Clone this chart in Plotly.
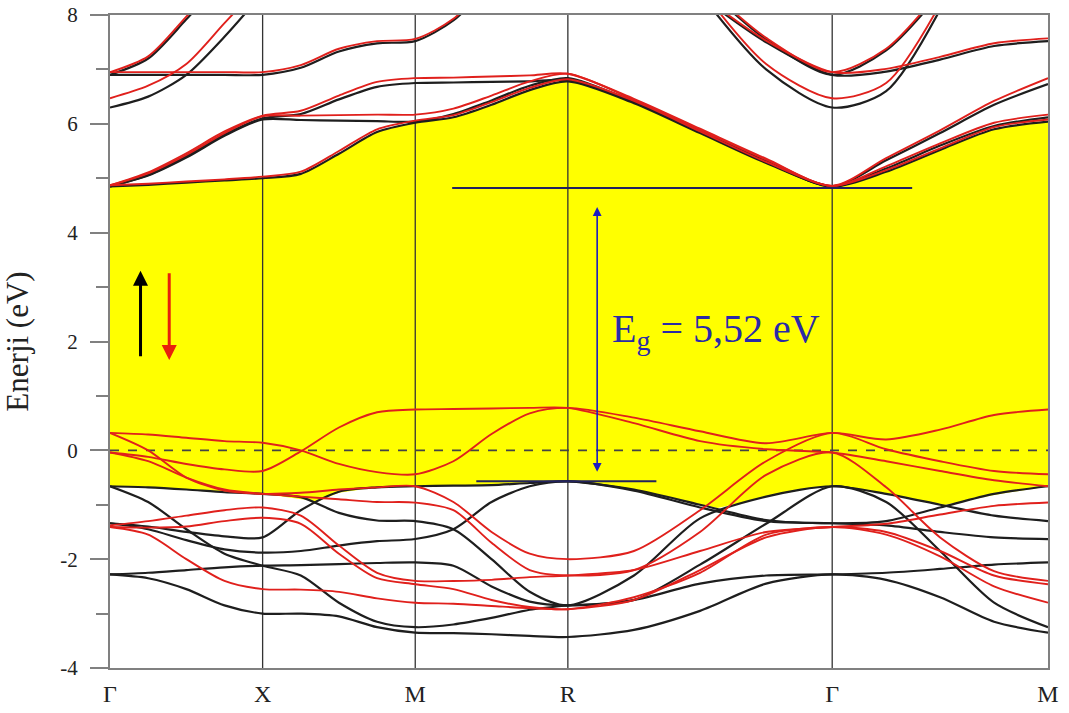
import plotly.graph_objects as go

N = None
# high-symmetry path (simple cubic): Γ-X-M-R-Γ-M
K_HS = [0.0, 0.5, 1.0, 1.5, 2.366, 3.073]
K_LABELS = ["Γ", "X", "M", "R", "Γ", "M"]
K = [0.0, 0.125, 0.25, 0.375, 0.5, 0.625, 0.75, 0.875, 1.0, 1.125, 1.25, 1.375, 1.5,
     1.7165, 1.933, 2.1495, 2.366, 2.5428, 2.7195, 2.8963, 3.073]

# spin-up (black) valence bands
up_v1 = [-0.66, -0.68, -0.72, -0.77, -0.80, -0.86, -1.15, -1.29, -1.30, -1.45, -2.00, -2.60, -2.85, -2.30, -1.25, -0.85, -0.66, -0.80, -1.00, -1.20, -1.30]
up_v2 = [-0.66, -0.95, -1.45, -1.90, -2.12, -2.30, -2.80, -3.15, -3.25, -3.20, -3.08, -2.93, -2.85, -2.75, -2.10, -1.35, -0.66, -0.95, -1.85, -2.80, -3.25]
up_v3 = [-1.34, -1.40, -1.50, -1.58, -1.60, -1.10, -0.76, -0.68, -0.66, -0.65, -0.64, -0.60, -0.57, -0.72, -1.00, -1.28, -1.34, -1.30, -1.05, -0.80, -0.66]
up_v4 = [-1.34, -1.45, -1.65, -1.82, -1.88, -1.85, -1.75, -1.67, -1.63, -1.45, -0.95, -0.66, -0.57, -0.74, -1.05, -1.30, -1.34, -1.38, -1.50, -1.60, -1.63]
up_v5 = [-2.28, -2.25, -2.20, -2.15, -2.12, -2.11, -2.09, -2.07, -2.06, -2.12, -2.50, -2.78, -2.85, -2.75, -2.45, -2.30, -2.28, -2.25, -2.18, -2.10, -2.06]
up_v6 = [-2.28, -2.35, -2.55, -2.85, -3.00, -3.00, -3.05, -3.25, -3.35, -3.36, -3.38, -3.41, -3.43, -3.30, -2.95, -2.45, -2.28, -2.38, -2.70, -3.15, -3.35]

# spin-up (black) conduction bands
up_c1 = [4.85, 4.88, 4.92, 4.96, 5.00, 5.08, 5.45, 5.85, 6.02, 6.12, 6.35, 6.62, 6.78, 6.38, 5.83, 5.28, 4.85, 5.12, 5.52, 5.90, 6.04]
up_c2 = [4.85, 5.05, 5.38, 5.78, 6.08, 6.07, 6.06, 6.05, 6.04, 6.18, 6.43, 6.70, 6.84, 6.40, 5.85, 5.30, 4.85, 5.18, 5.60, 5.96, 6.12]
up_c3 = [4.85, 5.06, 5.40, 5.80, 6.10, 6.18, 6.45, 6.68, 6.75, 6.76, 6.77, 6.78, 6.80, 6.42, 5.87, 5.32, 4.85, 5.33, 5.83, 6.35, 6.73]
up_c4 = [6.90, 6.90, 6.90, 6.90, 6.90, 7.03, 7.33, 7.48, 7.52, 7.90, 8.60, N, N, N, 8.35, 7.50, 6.90, 6.96, 7.18, 7.43, 7.52]
up_c5 = [6.90, 7.20, 7.92, 8.70, N, N, N, N, N, N, N, N, N, N, 8.60, 7.55, 6.90, 7.35, 8.40, N, N]
up_c6 = [6.30, 6.50, 6.90, 7.60, 8.40, N, N, N, N, N, N, N, N, N, 8.40, 7.00, 6.30, 6.60, 8.10, N, N]

# spin-down (red) valence bands
dn_v1 = [0.32, 0.29, 0.23, 0.17, 0.14, 0.00, -0.25, -0.40, -0.44, -0.20, 0.30, 0.68, 0.78, 0.60, 0.35, 0.13, 0.32, 0.20, 0.38, 0.65, 0.75]
dn_v2 = [-0.04, -0.12, -0.25, -0.35, -0.38, -0.02, 0.42, 0.70, 0.75, 0.76, 0.77, 0.78, 0.78, 0.50, 0.17, 0.02, -0.04, -0.20, -0.38, -0.55, -0.66]
dn_v3 = [0.32, 0.00, -0.50, -0.74, -0.80, -0.78, -0.72, -0.68, -0.66, -0.95, -1.50, -1.90, -2.00, -1.85, -1.10, -0.20, 0.32, 0.02, -0.20, -0.38, -0.44]
dn_v4 = [-0.04, -0.20, -0.50, -0.72, -0.80, -0.85, -0.90, -0.95, -0.96, -1.10, -1.70, -2.20, -2.30, -2.20, -1.50, -0.45, -0.04, -0.68, -1.60, -2.22, -2.40]
dn_v5 = [-1.38, -1.30, -1.20, -1.10, -1.05, -1.20, -1.75, -2.25, -2.40, -2.40, -2.38, -2.33, -2.30, -2.20, -1.85, -1.50, -1.41, -1.35, -1.18, -1.02, -0.96]
dn_v6 = [-1.41, -1.42, -1.40, -1.30, -1.24, -1.35, -1.90, -2.35, -2.46, -2.55, -2.75, -2.88, -2.92, -2.70, -2.25, -1.55, -1.41, -1.50, -1.85, -2.30, -2.46]
dn_v7 = [-1.41, -1.55, -2.00, -2.40, -2.55, -2.56, -2.60, -2.72, -2.80, -2.82, -2.86, -2.90, -2.92, -2.75, -2.20, -1.60, -1.41, -1.55, -1.95, -2.50, -2.80]

# spin-down (red) conduction bands
dn_c1 = [4.87, 4.90, 4.94, 4.98, 5.03, 5.12, 5.50, 5.90, 6.06, 6.16, 6.40, 6.66, 6.82, 6.42, 5.86, 5.30, 4.86, 5.15, 5.55, 5.94, 6.08]
dn_c2 = [4.87, 5.09, 5.43, 5.83, 6.14, 6.15, 6.16, 6.17, 6.17, 6.28, 6.52, 6.78, 6.92, 6.44, 5.89, 5.34, 4.86, 5.22, 5.64, 6.02, 6.17]
dn_c3 = [4.87, 5.11, 5.46, 5.86, 6.15, 6.24, 6.52, 6.77, 6.84, 6.85, 6.87, 6.89, 6.92, 6.46, 5.91, 5.36, 4.86, 5.37, 5.88, 6.42, 6.84]
dn_c4 = [6.95, 6.95, 6.95, 6.95, 6.95, 7.08, 7.38, 7.52, 7.56, 7.93, 8.65, N, N, N, 8.38, 7.53, 6.95, 7.01, 7.23, 7.48, 7.57]
dn_c5 = [6.95, 7.24, 7.97, 8.75, N, N, N, N, N, N, N, N, N, N, 8.62, 7.58, 6.95, 7.38, 8.45, N, N]
dn_c6 = [6.47, 6.70, 7.10, 7.85, 8.60, N, N, N, N, N, N, N, N, N, 8.50, 7.10, 6.47, 6.75, 8.20, N, N]

# lower edge of the yellow gap region (spin-up valence top)
GAP_FLOOR_K = [0.0, 0.25, 0.5, 0.60, 0.68, 0.75, 0.875, 1.0, 1.25, 1.375, 1.5, 1.7165, 1.85, 1.99, 2.08, 2.149, 2.26, 2.366, 2.5428, 2.73, 2.8963, 3.073]
GAP_FLOOR_E = [-0.66, -0.72, -0.80, -0.88, -0.94, -0.78, -0.68, -0.66, -0.64, -0.60, -0.57, -0.72, -0.90, -1.06, -0.95, -0.85, -0.72, -0.66, -0.80, -1.01, -0.82, -0.66]

CBM = 4.82
VBM = -0.57
EG_TEXT = "E<sub>g</sub> = 5,52 eV"

Y_TICKS = [-4, -2, 0, 2, 4, 6, 8]
Y_MINOR = [-3, -1, 1, 3, 5, 7]

SERIF = "Liberation Serif, Times New Roman, serif"
BLACK = "#1e1e1e"
RED = "#e0201c"
NAVY = "#22225e"
BLUE = "#1c1cc0"

fig = go.Figure()

# yellow gap region
fig.add_trace(go.Scatter(x=GAP_FLOOR_K, y=GAP_FLOOR_E, mode="lines",
                         line=dict(width=0, color="rgba(0,0,0,0)"), hoverinfo="skip"))
fig.add_trace(go.Scatter(x=K, y=up_c1, mode="lines", fill="tonexty", fillcolor="#ffff00",
                         line=dict(width=0, shape="spline", smoothing=0.8, color="rgba(0,0,0,0)"),
                         hoverinfo="skip"))

# vertical high-symmetry lines
for kv in K_HS[1:-1]:
    fig.add_trace(go.Scatter(x=[kv, kv], y=[Y_TICKS[0], Y_TICKS[-1]], mode="lines",
                             line=dict(color="#333333", width=1.3), hoverinfo="skip"))

# Fermi level
fig.add_trace(go.Scatter(x=[K[0], K[-1]], y=[0, 0], mode="lines",
                         line=dict(color="#444444", width=1.6, dash="dash"), hoverinfo="skip"))

up_bands = [up_v1, up_v2, up_v3, up_v4, up_v5, up_v6, up_c1, up_c2, up_c3, up_c4, up_c5, up_c6]
dn_bands = [dn_v1, dn_v2, dn_v3, dn_v4, dn_v5, dn_v6, dn_v7, dn_c1, dn_c2, dn_c3, dn_c4, dn_c5, dn_c6]

for b in up_bands:
    fig.add_trace(go.Scatter(x=K, y=b, mode="lines",
                             line=dict(color=BLACK, width=2.2, shape="spline", smoothing=0.8),
                             hoverinfo="skip"))
for b in dn_bands:
    fig.add_trace(go.Scatter(x=K, y=b, mode="lines",
                             line=dict(color=RED, width=1.9, shape="spline", smoothing=0.8),
                             hoverinfo="skip"))

# CBM / VBM markers
fig.add_trace(go.Scatter(x=[1.121, 2.628], y=[CBM, CBM], mode="lines",
                         line=dict(color=NAVY, width=2), hoverinfo="skip"))
fig.add_trace(go.Scatter(x=[1.20, 1.79], y=[VBM, VBM], mode="lines",
                         line=dict(color=NAVY, width=2), hoverinfo="skip"))

annotations = [
    # double arrow for the gap
    dict(x=1.596, y=4.47, ax=1.596, ay=-0.42, xref="x", yref="y", axref="x", ayref="y",
         showarrow=True, arrowhead=2, startarrowhead=2, arrowside="end+start",
         arrowsize=1.1, startarrowsize=1.1, arrowwidth=1.6, arrowcolor=BLUE, text=""),
    dict(x=1.984, y=2.2, xref="x", yref="y", text=EG_TEXT, showarrow=False,
         font=dict(family=SERIF, size=40, color="#2a2aa8")),
    # spin arrows
    dict(x=0.100, y=3.30, ax=0.100, ay=1.70, xref="x", yref="y", axref="x", ayref="y",
         showarrow=True, arrowhead=2, arrowsize=1.0, arrowwidth=3, arrowcolor="#000000", text=""),
    dict(x=0.194, y=1.66, ax=0.194, ay=3.28, xref="x", yref="y", axref="x", ayref="y",
         showarrow=True, arrowhead=2, arrowsize=1.0, arrowwidth=3, arrowcolor="#e8200c", text=""),
]

fig.update_layout(
    width=1069, height=713,
    margin=dict(l=110, r=21, t=15, b=45),
    paper_bgcolor="white", plot_bgcolor="white",
    showlegend=False, hovermode=False,
    annotations=annotations,
    xaxis=dict(range=[K[0], K[-1]], tickvals=K_HS, ticktext=K_LABELS,
               showgrid=False, zeroline=False, showline=True, mirror=True,
               linecolor="#808080", linewidth=2, ticks="", automargin=False,
               tickfont=dict(family=SERIF, size=24, color="#222222"),
               ticklabelstandoff=3),
    yaxis=dict(range=[Y_TICKS[0], Y_TICKS[-1]], tickvals=Y_TICKS,
               ticktext=[str(v) for v in Y_TICKS], automargin=False,
               showgrid=False, zeroline=False, showline=True, mirror=True,
               linecolor="#808080", linewidth=2,
               ticks="outside", ticklen=18, tickwidth=1.5, tickcolor="#808080",
               minor=dict(tickvals=Y_MINOR, ticks="outside", ticklen=12,
                          tickwidth=1.5, tickcolor="#808080"),
               tickfont=dict(family=SERIF, size=21, color="#222222"),
               ticklabelstandoff=8,
               title=dict(text="Enerji (eV)", font=dict(family=SERIF, size=31, color="#222222"),
                          standoff=24)),
)

# remove the default page margin so the figure fills the window exactly
fig.write_html("out.html", config={"displayModeBar": False},
               post_script="document.body.style.margin='0';")
